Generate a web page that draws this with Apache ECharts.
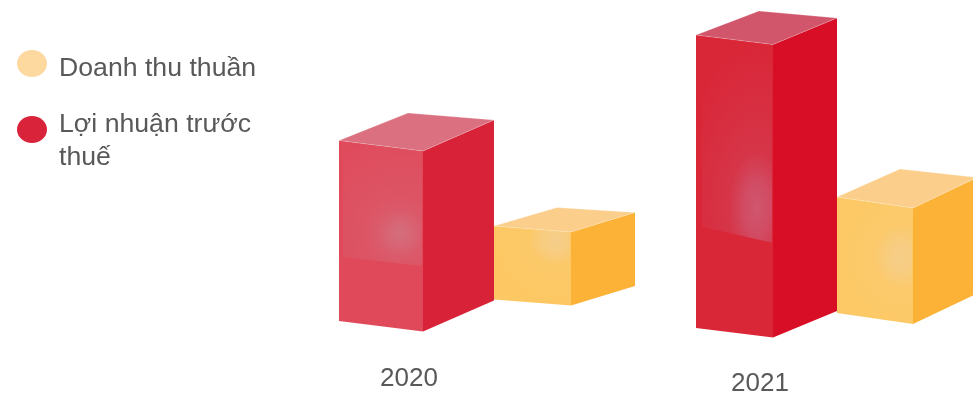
<!DOCTYPE html>
<html>
<head>
<meta charset="utf-8">
<style>html,body{margin:0;padding:0;background:#fff}#chart{width:973px;height:397px}</style>
<script src="https://cdn.jsdelivr.net/npm/echarts@6/dist/echarts.min.js"></script>
</head>
<body>
<div id="chart"></div>
<script>
// Chart values
const categories = ['2020', '2021'];
const doanhThuThuan = [73.5, 116];
const loiNhuanTruocThue = [180.5, 293];
const seriesNames = ['Doanh thu thuần', 'Lợi nhuận trước thuế'];

// Box drawing parameters: one entry per year for each series
const boxes = {
  revenue: [
    { off: 85, w: 77, base: -40.5, skew: 6, depth: [64, -19.5], backLeft: [63, -18.5],
      front: '#fdc863', side: '#fbb236', top: '#fbce8b',
      glow: { x: 61, y: 14, r: 26, sy: 1, rgb: '245,207,145', a: 0.85, haze: 0.08, reach: 70 },
      sheen: { inset: 2, cut: 71, tilt: 6 } },
    { off: 77, w: 76, base: -27, skew: 11, depth: [64, -30.5], backLeft: [63, -28],
      front: '#fdc966', side: '#fbb236', top: '#fbce8b',
      glow: { x: 64, y: 60, r: 27, sy: 1.2, rgb: '245,207,145', a: 0.8, haze: 0.08, reach: 60 },
      sheen: { inset: 2, cut: 113, tilt: 11 } }
  ],
  profit: [
    { off: -70, w: 84, base: -19, skew: 10.5, depth: [71, -31], backLeft: [69, -27.5],
      front: '#e0495a', side: '#d82238', top: '#da7080',
      glow: { x: 61, y: 93, r: 23, sy: 1, rgb: '212,112,127', a: 0.95, haze: 0.3, reach: 110 },
      sheen: { inset: 4, cut: 116, tilt: 9 } },
    { off: -64, w: 77, base: -12, skew: 9.5, depth: [64, -26.5], backLeft: [63, -24],
      front: '#d92738', side: '#d80e26', top: '#d1566b',
      glow: { x: 61, y: 173, r: 28, sy: 2, rgb: '207,86,111', a: 1, haze: 0.2, reach: 80 },
      sheen: { inset: 6, cut: 191, tilt: 16 } }
  ]
};

function poly(points, fill, extra) {
  return Object.assign({ type: 'polygon', shape: { points }, style: { fill } }, extra || {});
}

// Translucent highlight on the front face, stretched vertically by sy
function sheenLayer(b, x0, yTop) {
  const g = b.glow, s = b.sheen, sy = g.sy;
  const xL = x0 + s.inset, xR = x0 + b.w - 1;
  const slope = b.skew / b.w;
  const yT = x => yTop + (x - x0) * slope;
  const pts = [
    [xL, yT(xL)], [xR, yT(xR)],
    [xR, yTop + s.cut + s.tilt + (xL - x0) * slope], [xL, yTop + s.cut + (xL - x0) * slope]
  ].map(p => [p[0], p[1] / sy]);
  const cx = x0 + g.x, cy = (yTop + g.y) / sy;
  const stop = k => 'rgba(' + g.rgb + ',' + k + ')';
  const at = px => Math.min(px / g.reach, 1);
  return poly(pts, {
    type: 'radial', x: cx, y: cy, r: g.reach, global: true,
    colorStops: [
      { offset: 0, color: stop(g.a) },
      { offset: at(g.r * 0.45), color: stop(g.a * 0.8) },
      { offset: at(g.r), color: stop(g.haze * 1.5) },
      { offset: at(g.r * 1.6), color: stop(g.haze) },
      { offset: 1, color: stop(0) }
    ]
  }, { scaleY: sy, originX: 0, originY: 0 });
}

function renderBox(table) {
  return function (params, api) {
    const i = api.value(0);
    const b = table[i];
    const origin = api.coord([i, 0]);
    const h = api.size([0, api.value(1)])[1];
    const x0 = origin[0] + b.off, x1 = x0 + b.w;
    const yBase = origin[1] + b.base, yTop = yBase - h;
    const xB = x1 + b.depth[0];
    const tl = [x0, yTop], tr = [x1, yTop + b.skew];
    const bl = [x0, yBase], br = [x1, yBase + b.skew];
    const btr = [xB, yTop + b.skew + b.depth[1]];
    const bbr = [xB, yBase + b.skew + b.depth[1]];
    const btl = [x0 + b.backLeft[0], yTop + b.backLeft[1]];
    const seam = { stroke: 'rgba(255,255,255,0.35)', lineWidth: 0.6 };
    return {
      type: 'group',
      silent: true,
      children: [
        poly([tr, btr, bbr, br], b.side),
        poly([tl, tr, br, bl], b.front),
        sheenLayer(b, x0, yTop),
        { type: 'polygon', shape: { points: [tl, btl, btr, tr] },
          style: Object.assign({ fill: b.top }, seam) }
      ]
    };
  };
}

const chart = echarts.init(document.getElementById('chart'), null, { renderer: 'canvas' });
const fontFamily = '"Liberation Sans", Arial, sans-serif';
const ovalIcon = 'path://M0,50A50,50,0,1,1,100,50A50,50,0,1,1,0,50Z';
const legendRich = {
  t: { color: '#595959', fontSize: 26.67, fontFamily, lineHeight: 33, padding: [0, 0, 0, 7] },
  s1: { fontSize: 4, lineHeight: 10 },
  s2: { fontSize: 4, lineHeight: 24 }
};
const legendBase = {
  orient: 'vertical', left: 17, padding: 0, icon: ovalIcon, itemWidth: 30, itemHeight: 27,
  symbolKeepAspect: false, selectedMode: false,
  textStyle: { color: '#595959', rich: legendRich }
};

chart.setOption({
  animation: false,
  backgroundColor: '#fff',
  grid: { left: 233.5, width: 702, top: 0, height: 340 },
  legend: [
    Object.assign({}, legendBase, {
      top: 45,
      formatter: () => '{s1| }\n{t|Doanh thu thuần}',
      data: [{ name: seriesNames[0], itemStyle: { color: '#fdd9a0' } }]
    }),
    Object.assign({}, legendBase, {
      top: 94.5,
      formatter: () => '{s2| }\n{t|Lợi nhuận trước}\n{t|thuế}',
      data: [{ name: seriesNames[1], itemStyle: { color: '#d9233b' } }]
    })
  ],
  xAxis: {
    type: 'category',
    data: categories,
    axisLine: { show: false },
    axisTick: { show: false },
    axisLabel: {
      margin: 24,
      interval: 0,
      formatter: (v, i) => '{y' + i + '|' + v + '}',
      rich: {
        y0: { color: '#595959', fontSize: 26, lineHeight: 30, fontFamily },
        y1: { color: '#595959', fontSize: 26, lineHeight: 30, padding: [10, 0, 0, 0], fontFamily }
      }
    }
  },
  yAxis: { type: 'value', min: 0, max: 340, show: false },
  series: [
    {
      name: seriesNames[0], type: 'custom', clip: false, itemStyle: { color: '#fdd9a0' },
      encode: { x: 0, y: 1 },
      data: doanhThuThuan.map((v, i) => [i, v]),
      renderItem: renderBox(boxes.revenue)
    },
    {
      name: seriesNames[1], type: 'custom', clip: false, itemStyle: { color: '#d9233b' },
      encode: { x: 0, y: 1 },
      data: loiNhuanTruocThue.map((v, i) => [i, v]),
      renderItem: renderBox(boxes.profit)
    }
  ]
});
</script>
</body>
</html>
